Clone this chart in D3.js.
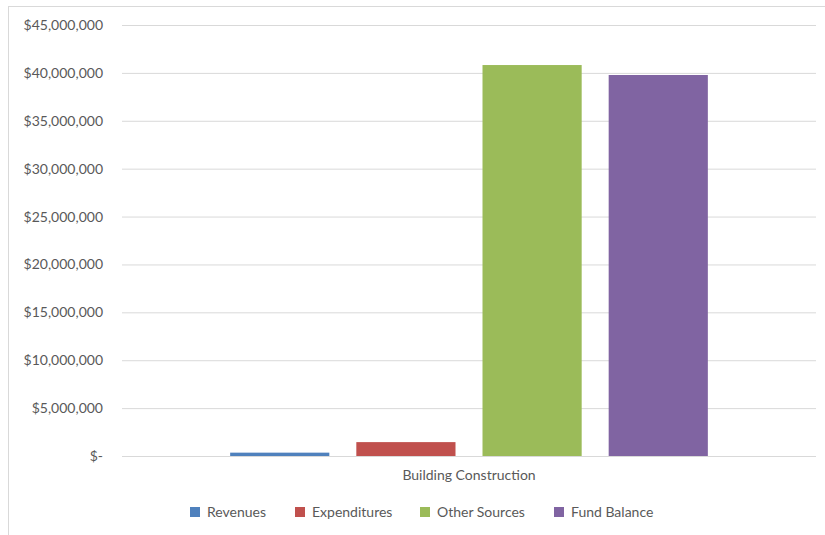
<!DOCTYPE html>
<html><head><meta charset="utf-8">
<script src="https://cdn.jsdelivr.net/npm/d3@7"></script>
<style>body{margin:0;background:#fff}svg{display:block}text{font-family:Lato,"Open Sans",sans-serif;fill:#595959}</style>
</head><body>
<svg id="c" width="825" height="535"></svg>
<script>
const categories = ["Building Construction"];
const seriesNames = ["Revenues", "Expenditures", "Other Sources", "Fund Balance"];
const seriesValues = [350000, 1450000, 40820000, 39780000];
const seriesColors = ["#4f81bd", "#c0504d", "#9bbb59", "#8064a2"];
const tickValues = [0, 5e6, 10e6, 15e6, 20e6, 25e6, 30e6, 35e6, 40e6, 45e6];

const svg = d3.select("#c");
svg.append("rect").attr("x", 8.5).attr("y", 6.5).attr("width", 840).attr("height", 560)
  .attr("fill", "#fff").attr("stroke", "#d9d9d9");

const pLeft = 122, pRight = 816, pTop = 25, pBottom = 456;
const y = d3.scaleLinear().domain([0, 45e6]).range([pBottom, pTop]);
const x0 = d3.scaleBand().domain(categories).range([pLeft, pRight]).paddingInner(0).paddingOuter(0.2264);
const x1 = d3.scaleBand().domain(seriesNames).range([0, x0.bandwidth()]).paddingInner(0.214).paddingOuter(0);

const fmt = v => v === 0 ? "$-" : "$" + d3.format(",")(v);
const yAxis = d3.axisLeft(y).tickValues(tickValues).tickSize(-(pRight - pLeft)).tickFormat(fmt).tickPadding(19);
const g = svg.append("g").attr("transform", `translate(${pLeft},0)`).call(yAxis);
g.select(".domain").remove();
g.selectAll(".tick line").attr("stroke", "#d9d9d9");
g.selectAll(".tick text").style("font-size", "14px").style("font-family", "Lato, 'Open Sans', sans-serif").attr("fill", "#595959");

const data = seriesNames.map((n, i) => ({ cat: categories[0], name: n, value: seriesValues[i], color: seriesColors[i] }));
svg.append("g").selectAll("rect").data(data).join("rect")
  .attr("x", d => x0(d.cat) + x1(d.name))
  .attr("width", x1.bandwidth())
  .attr("y", d => y(d.value))
  .attr("height", d => y(0) - y(d.value))
  .attr("fill", d => d.color);

const xAxis = d3.axisBottom(x0).tickSize(0).tickPadding(14);
const gx = svg.append("g").attr("transform", `translate(0,${pBottom})`).call(xAxis);
gx.select(".domain").remove();
gx.selectAll(".tick text").style("font-size", "14px").style("font-family", "Lato, 'Open Sans', sans-serif").attr("fill", "#595959");

const legendX = [190, 295, 420, 554];
const lg = svg.append("g").selectAll("g").data(data).join("g")
  .attr("transform", (d, i) => `translate(${legendX[i]},507)`);
lg.append("rect").attr("width", 10).attr("height", 10).attr("fill", d => d.color);
lg.append("text").attr("x", 17).attr("y", 5).attr("dy", "0.35em").style("font-size", "14px").text(d => d.name);
</script>
</body></html>
